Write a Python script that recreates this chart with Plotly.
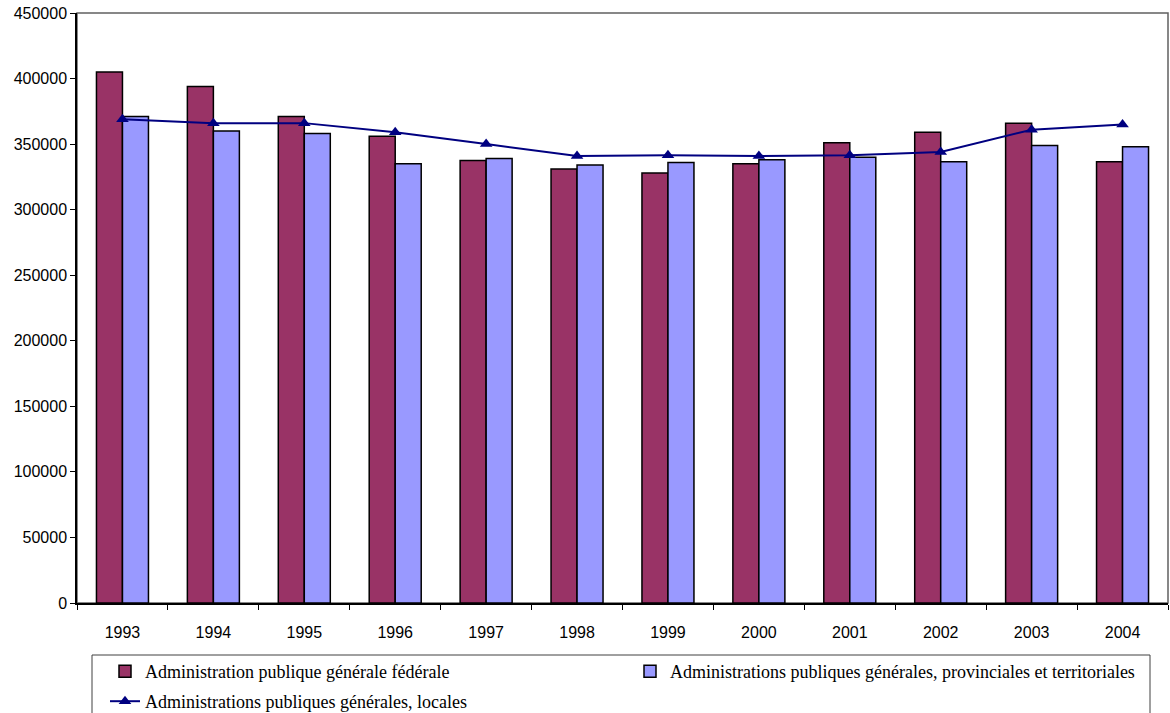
import plotly.graph_objects as go

# Effectifs des administrations publiques, 1993-2004
annees = ["1993", "1994", "1995", "1996", "1997", "1998",
          "1999", "2000", "2001", "2002", "2003", "2004"]
federale = [405000, 394000, 371000, 356000, 337500, 331000,
            328000, 335000, 351000, 359000, 366000, 336500]
provinciales = [371000, 360000, 358000, 335000, 339000, 334000,
                336000, 338000, 340000, 336500, 349000, 348000]
locales = [369000, 366000, 366000, 359000, 350000, 341000,
           341500, 341000, 341500, 344000, 361000, 365000]

noms = ["Administration publique générale fédérale",
        "Administrations publiques générales, provinciales et territoriales",
        "Administrations publiques générales, locales"]

W, H = 1170, 713
L, R, T, B = 77, 2, 13, 110

fig = go.Figure()
fig.add_trace(go.Bar(x=annees, y=federale, name=noms[0], legend="legend",
                     marker=dict(color="#993366", line=dict(color="black", width=1.5))))
fig.add_trace(go.Bar(x=annees, y=provinciales, name=noms[1], legend="legend",
                     marker=dict(color="#9999FF", line=dict(color="black", width=1.5))))
fig.add_trace(go.Scatter(x=annees, y=locales, name=noms[2], mode="lines+markers",
                         legend="legend2",
                         line=dict(color="#000080", width=2),
                         marker=dict(symbol="triangle-up", size=11, color="#000080")))

pw = W - L - R
ph = H - T - B

def px_x(p):
    return (p - L) / pw

def px_y(p):
    return (H - B - p) / ph

# frame around the plotting area
fig.add_shape(type="rect", xref="paper", yref="paper", x0=0, x1=1, y0=0, y1=1,
              line=dict(color="#606060", width=1.5), layer="below")
# box around the legend (runs past the bottom of the page)
fig.add_shape(type="rect", xref="paper", yref="paper",
              x0=px_x(92), x1=px_x(1150), y0=px_y(655), y1=px_y(760),
              line=dict(color="#404040", width=1))

legend_font = dict(family="Liberation Serif, Times New Roman", size=18, color="black")

fig.update_layout(
    width=W, height=H,
    margin=dict(l=L, r=R, t=T, b=B, pad=0, autoexpand=False),
    paper_bgcolor="white", plot_bgcolor="white",
    barmode="group", bargap=0.428, bargroupgap=0,
    font=dict(family="Liberation Sans, Arial", size=16, color="black"),
    showlegend=True,
    legend=dict(orientation="h", xref="container", yref="container",
                x=105 / W, y=1 - 653 / H, xanchor="left", yanchor="top",
                entrywidth=480, entrywidthmode="pixels", font=legend_font,
                bgcolor="rgba(0,0,0,0)", borderwidth=0, traceorder="normal"),
    legend2=dict(orientation="h", xref="container", yref="container",
                 x=105 / W, y=1 - 683 / H, xanchor="left", yanchor="top",
                 font=legend_font, bgcolor="rgba(0,0,0,0)", borderwidth=0),
    xaxis=dict(range=[-0.5, 11.5], showline=True, linecolor="black", linewidth=1.5,
               ticks="outside", tickson="boundaries", ticklen=5, tickcolor="black",
               ticklabelstandoff=14, showgrid=False),
    yaxis=dict(range=[0, 450000], dtick=50000, showline=True, linecolor="black",
               linewidth=1.5, ticks="outside", ticklen=5, tickcolor="black",
               showgrid=False, zeroline=False, tickformat="d"),
)

fig.write_html("out.html")
